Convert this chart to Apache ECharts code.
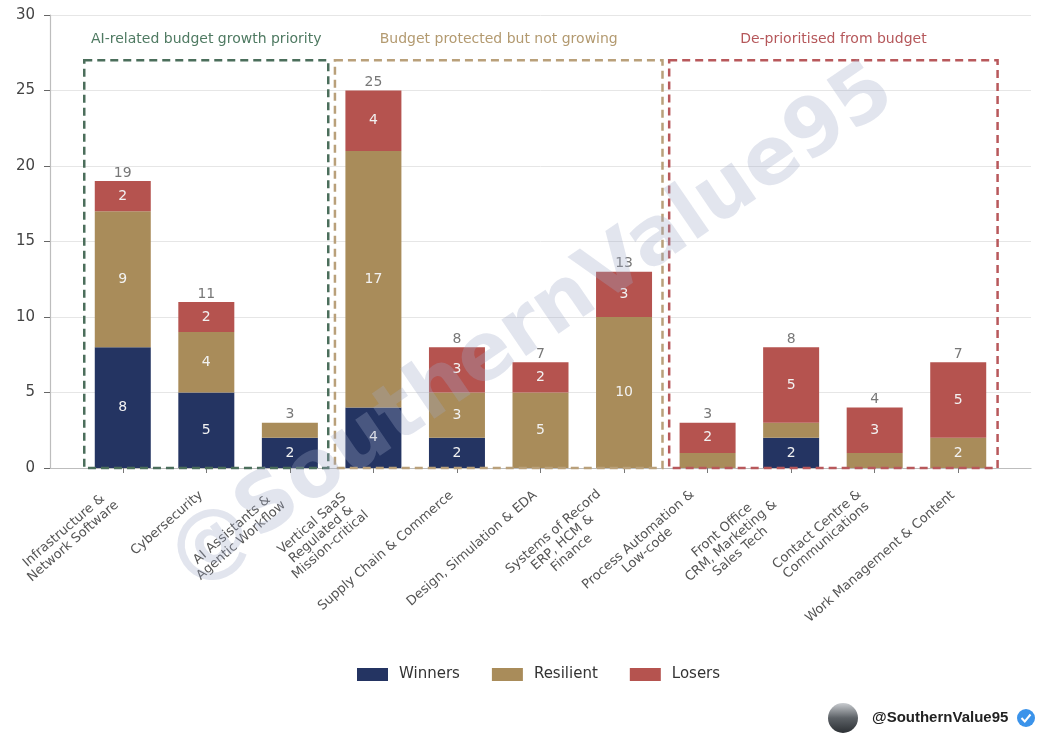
<!DOCTYPE html>
<html lang="en">
<head>
    <meta charset="UTF-8">
    <title>Software categories by AI budget outlook</title>
    <script src="https://cdn.jsdelivr.net/npm/echarts@6/dist/echarts.min.js"></script>
    <style>
        html, body { margin: 0; padding: 0; background: #fff; }
    </style>
</head>
<body>
<div id="main" style="width: 1058px;height:737px;"></div>

<script type="text/javascript">
    // categories and stacked values
    var categories = [
        'Infrastructure &\nNetwork Software',
        'Cybersecurity',
        'AI Assistants &\nAgentic Workflow',
        'Vertical SaaS\nRegulated &\nMission-critical',
        'Supply Chain & Commerce',
        'Design, Simulation & EDA',
        'Systems of Record\nERP, HCM &\nFinance',
        'Process Automation &\nLow-code',
        'Front Office\nCRM, Marketing &\nSales Tech',
        'Contact Centre &\nCommunications',
        'Work Management & Content'
    ];
    var winners   = [8, 5, 2, 4, 2, 0, 0, 0, 2, 0, 0];
    var resilient = [9, 4, 1, 17, 3, 5, 10, 1, 1, 1, 2];
    var losers    = [2, 2, 0, 4, 3, 2, 3, 2, 5, 3, 5];
    var totals    = [19, 11, 3, 25, 8, 7, 13, 3, 8, 4, 7];

    // the three dashed groups (in category index units)
    var groupNames = ['AI-related budget growth priority', 'Budget protected but not growing', 'De-prioritised from budget'];
    var groupFrom  = [-0.46, 2.54, 6.54];
    var groupTo    = [2.46, 6.46, 10.47];
    var groupTop   = 27;

    var yTicks = [0, 5, 10, 15, 20, 25, 30];

    var colWin = '#243462', colRes = '#a98c5a', colLos = '#b5534f';
    var groupColors = ['#4b6e5b', '#b9a07a', '#b8585b'];
    var groupText = ['#4f7a62', '#b39a70', '#b5575a'];
    var font = 'DejaVu Sans';
    var lineH = 14;

    var myChart = echarts.init(document.getElementById('main'));

    function segLabel(p) {
        return p.value >= 2 ? p.value : '';
    }

    // tick labels: lines centred, block pushed back by half its height (like matplotlib's ha=right)
    var catData = categories.map(function (c) {
        var n = c.split('\n').length;
        return { value: c, textStyle: { padding: [0, n * lineH / 2, 0, 0] } };
    });

    var barLabel = {
        show: true,
        position: 'inside',
        color: '#f2f2f2',
        fontSize: 14,
        fontFamily: font,
        formatter: segLabel
    };

    myChart.setOption({
        animation: false,
        textStyle: { fontFamily: font },
        grid: [
            { left: 50, right: 27, top: 15, bottom: 269 },
            { left: 81, right: 58, top: 15, bottom: 269 }
        ],
        legend: {
            data: ['Winners', 'Resilient', 'Losers'],
            top: 662,
            left: 352,
            icon: 'rect',
            itemWidth: 31,
            itemHeight: 13,
            itemGap: 32,
            textStyle: { fontSize: 15, color: '#333', fontFamily: font, padding: [0, 0, 0, 6] }
        },
        xAxis: [{
            type: 'value',
            gridIndex: 0,
            min: -0.87,
            max: 10.87,
            axisLabel: { show: false },
            axisTick: { show: false },
            splitLine: { show: false },
            axisLine: { show: true, onZero: false, lineStyle: { color: '#bdbdbd', width: 1.2 } }
        }, {
            type: 'category',
            gridIndex: 1,
            data: catData,
            axisLine: { show: false },
            axisTick: { show: true, alignWithLabel: true, length: 5, lineStyle: { color: '#777' } },
            axisLabel: {
                interval: 0,
                rotate: 41,
                margin: 21,
                formatter: function (v) {
                    return v.split('\n').map(function (s) { return '{c|' + s + '}'; }).join('\n');
                },
                rich: {
                    c: { align: 'center', fontSize: 13, color: '#555', lineHeight: lineH, fontFamily: font }
                }
            }
        }],
        yAxis: [{
            type: 'value',
            gridIndex: 0,
            min: 0,
            max: 30,
            interval: 5,
            axisLine: { show: true, onZero: false, lineStyle: { color: '#bdbdbd', width: 1.2 } },
            axisTick: { show: true, length: 6, lineStyle: { color: '#666' } },
            axisLabel: { fontSize: 15, color: '#444', margin: 15, fontFamily: font,
                formatter: function (v) { return yTicks.indexOf(v) >= 0 ? v : ''; } },
            splitLine: { show: true, lineStyle: { color: '#e6e6e6', width: 1 } }
        }, {
            type: 'value',
            gridIndex: 1,
            min: 0,
            max: 30,
            show: false
        }],
        series: [{
            name: 'Winners',
            type: 'bar',
            xAxisIndex: 1,
            yAxisIndex: 1,
            stack: 'all',
            barWidth: 56,
            itemStyle: { color: colWin },
            label: barLabel,
            data: winners
        }, {
            name: 'Resilient',
            type: 'bar',
            xAxisIndex: 1,
            yAxisIndex: 1,
            stack: 'all',
            barWidth: 56,
            itemStyle: { color: colRes },
            label: barLabel,
            data: resilient
        }, {
            name: 'Losers',
            type: 'bar',
            xAxisIndex: 1,
            yAxisIndex: 1,
            stack: 'all',
            barWidth: 56,
            itemStyle: { color: colLos },
            label: barLabel,
            data: losers
        }, {
            // totals above each stack
            name: 'total',
            type: 'scatter',
            xAxisIndex: 1,
            yAxisIndex: 1,
            symbolSize: 0,
            silent: true,
            label: { show: true, position: 'top', distance: 1, color: '#555', fontSize: 14, fontFamily: font },
            data: totals
        }, {
            // dashed group boxes with their captions
            name: 'groups',
            type: 'custom',
            xAxisIndex: 0,
            yAxisIndex: 0,
            silent: true,
            z: 5,
            data: groupNames.map(function (n, i) { return [groupFrom[i], groupTo[i], groupTop, i]; }),
            renderItem: function (params, api) {
                var i = api.value(3);
                var p0 = api.coord([api.value(0), groupTop]);
                var p1 = api.coord([api.value(1), 0]);
                return {
                    type: 'group',
                    children: [{
                        type: 'rect',
                        shape: { x: p0[0], y: p0[1], width: p1[0] - p0[0], height: p1[1] - p0[1] },
                        style: { fill: 'none', stroke: groupColors[i], lineWidth: 2.5, lineDash: [8, 5] }
                    }, {
                        type: 'text',
                        x: (p0[0] + p1[0]) / 2,
                        y: p0[1] - 21,
                        style: {
                            text: groupNames[i],
                            fill: groupText[i],
                            fontSize: 14,
                            fontFamily: font,
                            align: 'center',
                            verticalAlign: 'middle'
                        }
                    }]
                };
            }
        }],
        graphic: [{
            type: 'text',
            x: 533,
            y: 326,
            rotation: 0.6,
            z: 100,
            silent: true,
            style: {
                text: '@SouthernValue95',
                fontSize: 80,
                fontWeight: 'bold',
                fontFamily: font,
                fill: 'rgba(160, 168, 200, 0.3)',
                align: 'center',
                verticalAlign: 'middle'
            }
        }, {
            type: 'circle',
            shape: { cx: 843, cy: 718, r: 15 },
            style: {
                fill: new echarts.graphic.LinearGradient(0, 0, 0, 1, [
                    { offset: 0, color: '#c9ccd0' },
                    { offset: 0.5, color: '#5c6166' },
                    { offset: 1, color: '#2c3034' }
                ])
            }
        }, {
            type: 'text',
            x: 872,
            y: 718,
            style: {
                text: '@SouthernValue95',
                fontSize: 15,
                fontWeight: 'bold',
                fontFamily: 'Liberation Sans',
                fill: '#222',
                align: 'left',
                verticalAlign: 'middle'
            }
        }, {
            type: 'circle',
            shape: { cx: 1026, cy: 718, r: 9 },
            style: { fill: '#3b93ea' }
        }, {
            type: 'polyline',
            shape: { points: [[1021.5, 718], [1024.8, 721.5], [1030.5, 714.5]] },
            style: { stroke: '#fff', lineWidth: 2, fill: 'none' }
        }]
    });
</script>
</body>
</html>
